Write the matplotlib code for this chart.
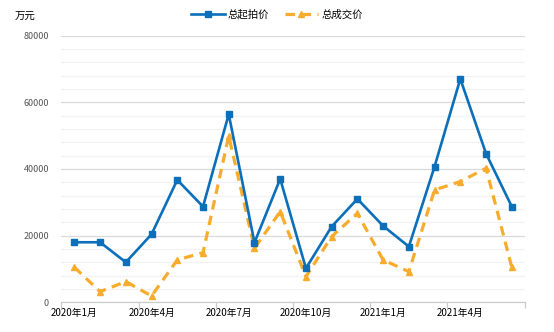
import numpy as np
import matplotlib
matplotlib.use('Agg')
import matplotlib.pyplot as plt
from matplotlib.ticker import MultipleLocator, FixedLocator

plt.rcParams['font.family'] = ['Noto Sans CJK SC', 'DejaVu Sans']

# monthly data, 2020-01 .. 2021-06 (unit: 万元)
months = ['2020年1月', '2020年2月', '2020年3月', '2020年4月', '2020年5月', '2020年6月',
          '2020年7月', '2020年8月', '2020年9月', '2020年10月', '2020年11月', '2020年12月',
          '2021年1月', '2021年2月', '2021年3月', '2021年4月', '2021年5月', '2021年6月']
start_price = [18000, 18000, 12000, 20400, 36700, 28700, 56400, 17900, 37000,
               10200, 22700, 31000, 22900, 16700, 40700, 67000, 44600, 28700]
deal_price = [10500, 3200, 6200, 1900, 12700, 14900, 49900, 16200, 27200,
              7700, 19700, 26700, 12700, 9200, 33700, 36200, 40200, 10500]

blue = '#0b6fba'
orange = '#f8ac2d'

fig = plt.figure(figsize=(5.54, 3.32), dpi=100)
ax = fig.add_axes([0.111, 0.0895, 0.836, 0.8035])

x = np.arange(len(months))
ax.plot(x, start_price, color=blue, lw=1.9, marker='s', markersize=4.5,
        label='总起拍价', zorder=3)
ax.plot(x, deal_price, color=orange, lw=2.3, ls=(0, (3, 2)), marker='^',
        markersize=5, label='总成交价', zorder=2)

ax.set_xlim(-0.5, len(months) - 0.5)
ax.set_ylim(0, 80000)

# grid: major every 20000, faint minor every 4000
ax.yaxis.set_major_locator(MultipleLocator(20000))
ax.yaxis.set_minor_locator(MultipleLocator(4000))
ax.grid(axis='y', which='major', color='#d9d9d9', lw=0.9, zorder=0)
ax.grid(axis='y', which='minor', color='#f2f2f2', lw=0.9, zorder=0)
ax.set_axisbelow(True)
ax.tick_params(axis='y', which='both', length=0, labelsize=6.5,
               labelcolor='#555555', pad=9)

# x axis: boundary ticks every 3 months, labels at category centres
ax.set_xticks(x[::3])
ax.set_xticklabels(months[::3])
ax.xaxis.set_minor_locator(FixedLocator(np.arange(-0.5, len(months), 3)))
ax.tick_params(axis='x', which='major', length=0, labelsize=7, pad=4)
ax.tick_params(axis='x', which='minor', length=4, color='#cccccc', width=0.9)

for s in ['top', 'right', 'left']:
    ax.spines[s].set_visible(False)
ax.spines['bottom'].set_color('#cccccc')
ax.spines['bottom'].set_linewidth(0.9)

fig.text(0.027, 0.948, '万元', fontsize=7.5, va='center', ha='left')

ax.legend(loc='center', bbox_to_anchor=(0.5, 0.955), bbox_transform=fig.transFigure,
          ncol=2, frameon=False, fontsize=7.5, handlelength=3.2,
          columnspacing=1.5, handletextpad=0.3)

fig.savefig('out.png', dpi=100)
